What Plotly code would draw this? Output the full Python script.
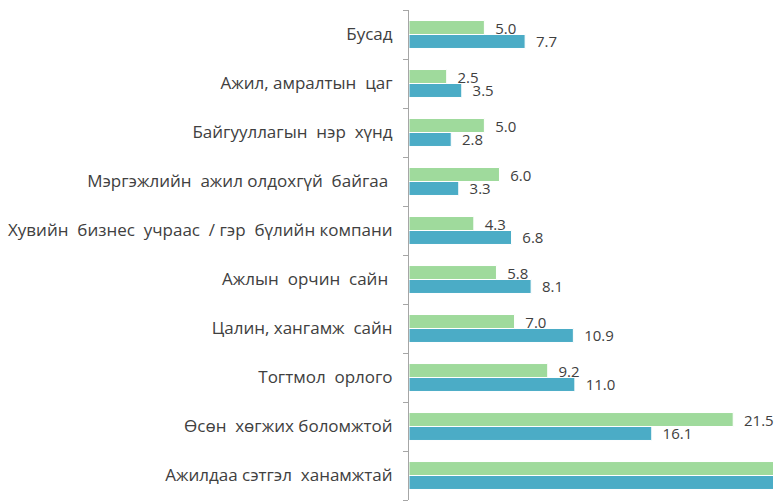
import plotly.graph_objects as go

# categories listed bottom-to-top
categories = [
    "Ажилдаа сэтгэл  ханамжтай",
    "Өсөн  хөгжих боломжтой",
    "Тогтмол  орлого",
    "Цалин, хангамж  сайн",
    "Ажлын  орчин  сайн ",
    "Хувийн  бизнес  учраас  / гэр  бүлийн компани",
    "Мэргэжлийн  ажил олдохгүй  байгаа ",
    "Байгууллагын  нэр  хүнд",
    "Ажил, амралтын  цаг",
    "Бусад",
]
green_vals = [26.0, 21.5, 9.2, 7.0, 5.8, 4.3, 6.0, 5.0, 2.5, 5.0]
blue_vals = [27.0, 16.1, 11.0, 10.9, 8.1, 6.8, 3.3, 2.8, 3.5, 7.7]

GREEN = "#9FDA9C"
BLUE = "#4BACC6"
TXT = "#404040"
NB = "\u00a0"

fig = go.Figure()
for vals, col, nm in [(blue_vals, BLUE, "blue"), (green_vals, GREEN, "green")]:
    fig.add_trace(go.Bar(
        y=categories, x=vals, orientation="h",
        marker=dict(color=col, line=dict(color="white", width=1)),
        texttemplate=NB * 2 + "%{x:.1f}", textposition="outside",
        constraintext="none",
        textfont=dict(family="Open Sans", size=15, color=TXT),
        cliponaxis=False, name=nm,
    ))

fig.update_layout(
    width=776, height=503,
    margin=dict(l=409, r=3, t=10, b=3),
    barmode="group", bargap=0.43, bargroupgap=0,
    showlegend=False,
    plot_bgcolor="white", paper_bgcolor="white",
    font=dict(family="Open Sans", size=15, color=TXT),
)
fig.update_xaxes(range=[0, 24.14], visible=False, showgrid=False, zeroline=False)
fig.update_yaxes(
    showline=True, linecolor="#A6A6A6", linewidth=1,
    ticks="outside", tickson="boundaries", ticklen=5, tickcolor="#A6A6A6",
    ticklabelstandoff=12,
    tickfont=dict(family="Open Sans", size=17, color=TXT),
    showgrid=False,
)

fig.write_html("out.html", config={"displayModeBar": False},
               post_script="document.body.style.margin='0';")
